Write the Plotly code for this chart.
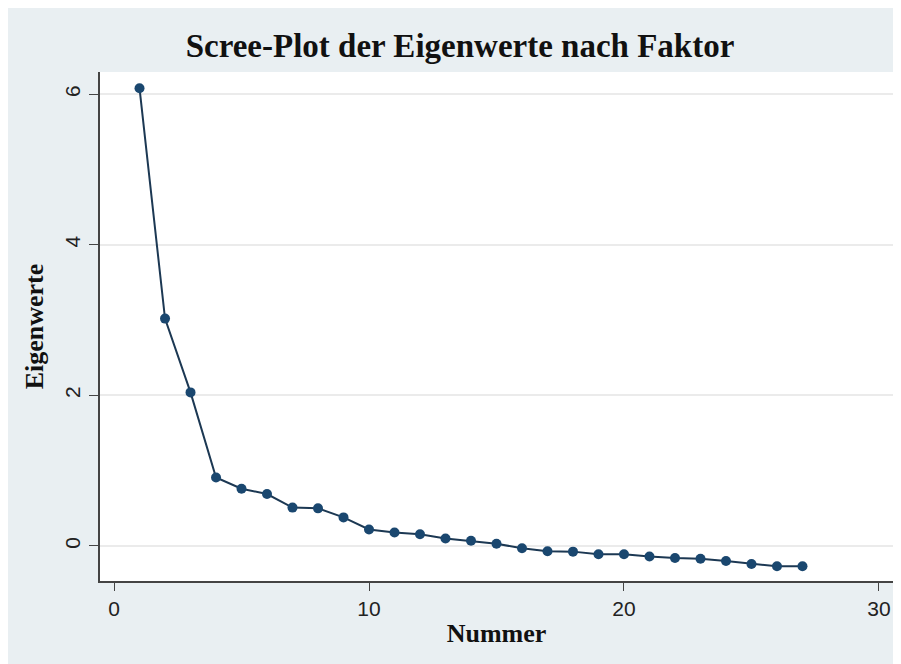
import plotly.graph_objects as go

nummer = list(range(1, 28))
eigenwerte = [6.08, 3.02, 2.04, 0.91, 0.76, 0.69, 0.51, 0.50, 0.38, 0.22,
              0.18, 0.155, 0.10, 0.07, 0.03, -0.03, -0.07, -0.075, -0.11, -0.11,
              -0.14, -0.16, -0.17, -0.20, -0.24, -0.27, -0.27]
x_ticks = [0, 10, 20, 30]
y_ticks = [0, 2, 4, 6]

title_text = "Scree-Plot der Eigenwerte nach Faktor"
x_title = "Nummer"
y_title = "Eigenwerte"

bg = "#e9eff2"
serif = "Liberation Serif, Times New Roman, serif"
sans = "Liberation Sans, Arial, sans-serif"

# page body has an 8px margin, so the figure is 8px smaller than the window
W, H = 893, 656

fig = go.Figure()
fig.add_trace(go.Scatter(
    x=nummer, y=eigenwerte, mode="lines+markers",
    line=dict(color="#1c3853", width=2),
    marker=dict(color="#1a476f", size=10, line=dict(width=0)),
    showlegend=False,
))

fig.update_layout(
    width=W, height=H,
    margin=dict(l=92, r=8, t=64, b=83),
    paper_bgcolor=bg, plot_bgcolor="white",
    title=dict(text=title_text, x=452 / W, xref="container", xanchor="center",
               y=1 - 37 / H, yref="container", yanchor="middle",
               font=dict(family=serif, size=33, color="#111111", weight="bold")),
    xaxis=dict(
        range=[-0.55, 30.55], tickvals=x_ticks, ticks="outside", ticklen=8,
        tickwidth=1.2, tickcolor="#444444",
        showline=True, linecolor="#444444", linewidth=1.5,
        showgrid=False, zeroline=False,
        tickfont=dict(family=sans, size=21, color="#222222"),
        ticklabelstandoff=0,
        title=dict(text=x_title, standoff=5,
                   font=dict(family=serif, size=26, color="#111111", weight="bold")),
    ),
    yaxis=dict(
        range=[-0.465, 6.295], tickvals=y_ticks, ticks="outside", ticklen=9,
        tickwidth=1.2, tickcolor="#444444", tickangle=-90,
        showline=True, linecolor="#444444", linewidth=1.5,
        showgrid=True, gridcolor="#ebebeb", gridwidth=1.5, zeroline=False,
        tickfont=dict(family=sans, size=21, color="#222222"),
        ticklabelstandoff=1,
        title=dict(text=y_title, standoff=10,
                   font=dict(family=serif, size=26, color="#111111", weight="bold")),
    ),
)

fig.write_html("out.html")
